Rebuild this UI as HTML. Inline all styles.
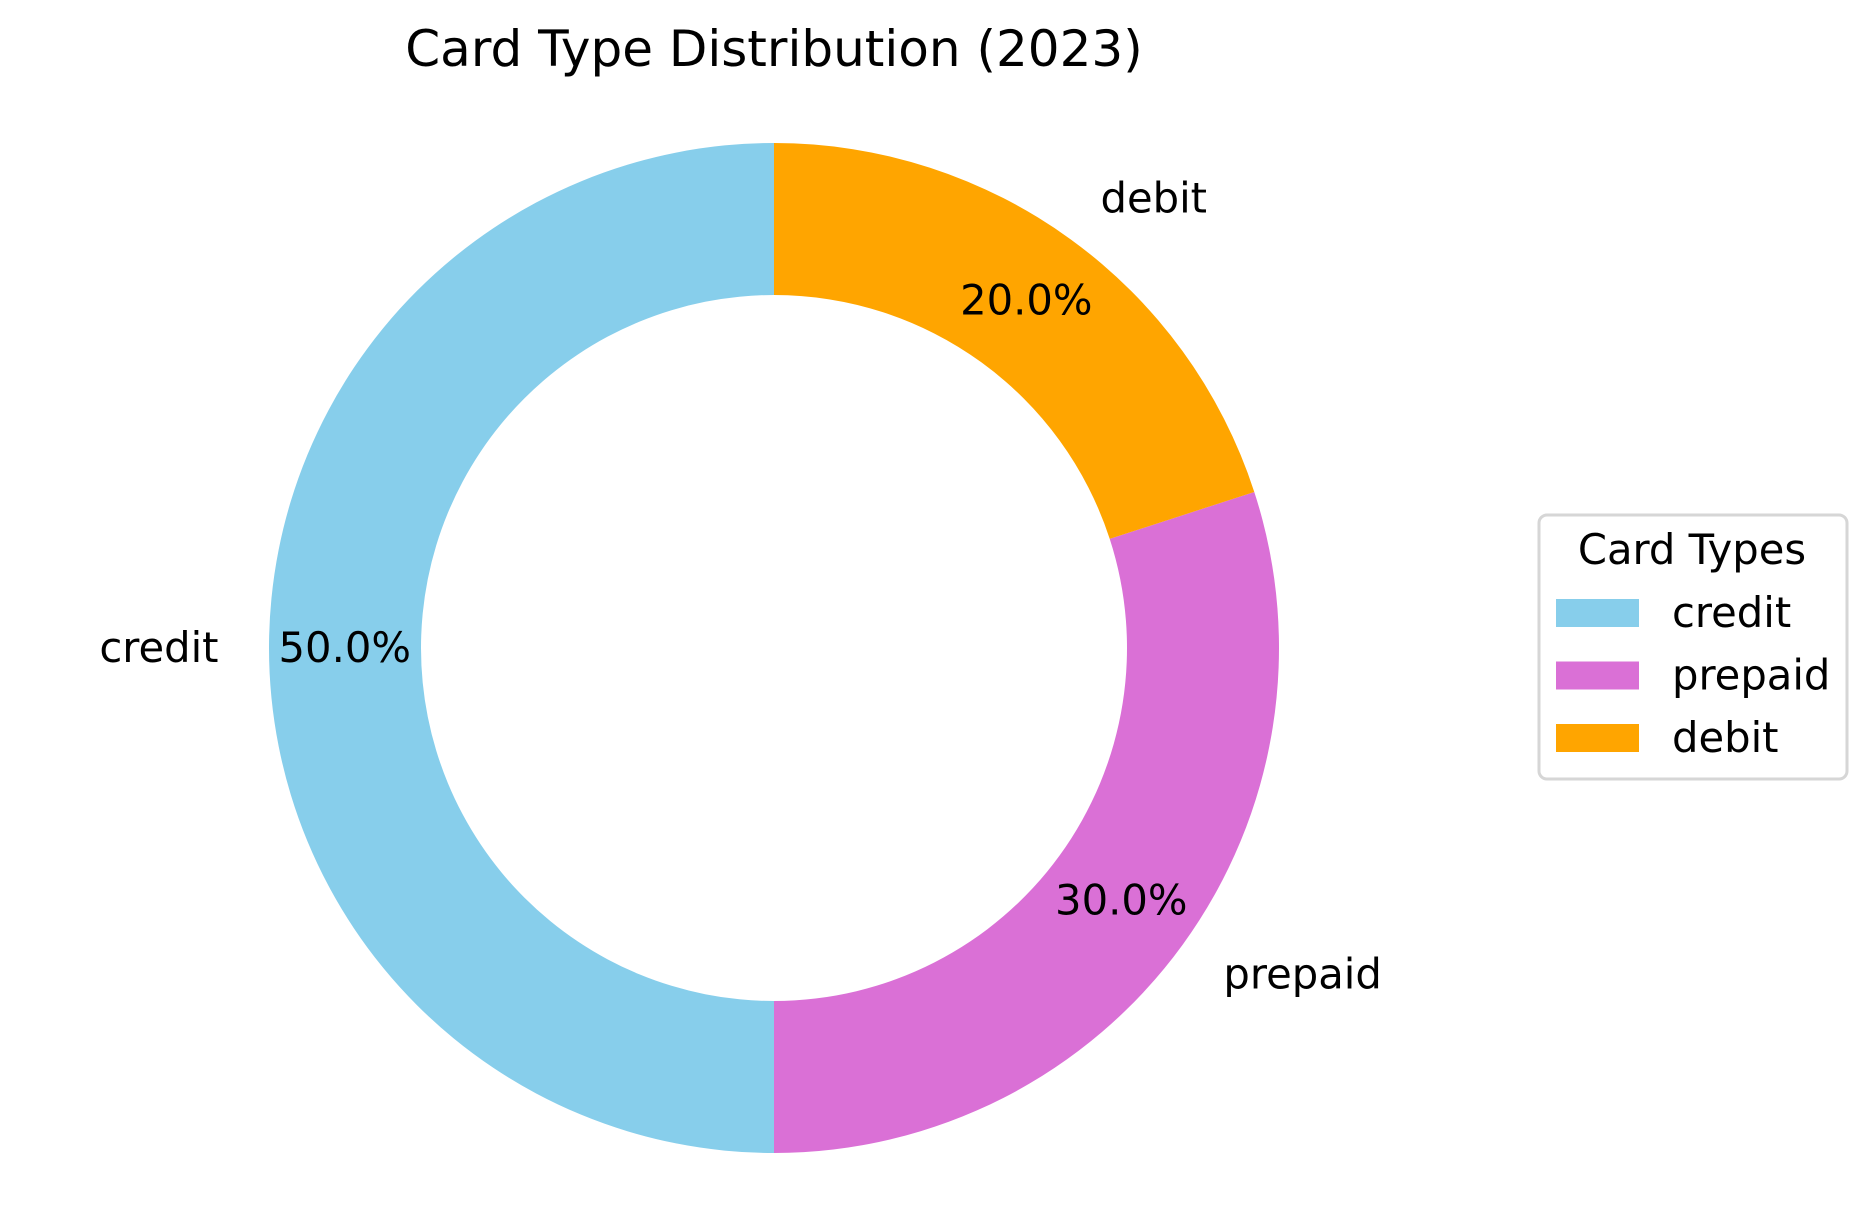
<!DOCTYPE html>
<html><head><meta charset="utf-8"><style>
html,body{margin:0;padding:0;background:#fff;}
svg{display:block;font-family:"DejaVu Sans","Liberation Sans",sans-serif;}
</style></head><body>
<svg id="chart" width="1876" height="1231" viewBox="0 0 1876 1231">
<text x="774" y="66" font-size="50" text-anchor="middle">Card Type Distribution (2023)</text>
<g id="slices"></g>
<g id="labels"></g>
<g id="legend">
<rect x="1539" y="515" width="308" height="264" rx="8" fill="#fff" stroke="#d6d6d6" stroke-width="3"/>
<text x="1692" y="564" font-size="41.7" text-anchor="middle">Card Types</text>
</g>
</svg>
<script>
const categories = ["credit", "prepaid", "debit"];
const values = [50, 30, 20];
const colors = ["#87CEEB", "#DA70D6", "#FFA500"];

const NS = "http://www.w3.org/2000/svg";
const cx = 774, cy = 648, R = 505, r = 353;
const total = values.reduce((a, b) => a + b, 0);
function pt(rad, deg) { const a = deg * Math.PI / 180; return [cx + rad * Math.cos(a), cy - rad * Math.sin(a)]; }
const sl = document.getElementById('slices');
const lb = document.getElementById('labels');
const lg = document.getElementById('legend');
let ang = 90;
values.forEach((v, i) => {
  const sweep = v / total * 360;
  const a0 = ang, a1 = ang + sweep;
  const large = sweep > 180 ? 1 : 0;
  const [x0, y0] = pt(R, a0), [x1, y1] = pt(R, a1), [x2, y2] = pt(r, a1), [x3, y3] = pt(r, a0);
  const p = document.createElementNS(NS, 'path');
  p.setAttribute('d', `M${x0},${y0} A${R},${R} 0 ${large} 0 ${x1},${y1} L${x2},${y2} A${r},${r} 0 ${large} 1 ${x3},${y3} Z`);
  p.setAttribute('fill', colors[i]);
  
  
  sl.appendChild(p);
  const mid = (a0 + a1) / 2;
  const [lx, ly] = pt(R * 1.1, mid);
  const t = document.createElementNS(NS, 'text');
  const c = Math.cos(mid * Math.PI / 180);
  t.setAttribute('x', lx); t.setAttribute('y', ly + 14);
  t.setAttribute('font-size', '41.7');
  t.setAttribute('text-anchor', c > 0.01 ? 'start' : (c < -0.01 ? 'end' : 'middle'));
  t.textContent = categories[i];
  
  
  lb.appendChild(t);
  const [px, py] = pt(R * 0.85, mid);
  const q = document.createElementNS(NS, 'text');
  q.setAttribute('x', px); q.setAttribute('y', py + 14);
  q.setAttribute('font-size', '41.7');
  q.setAttribute('text-anchor', 'middle');
  q.textContent = (v / total * 100).toFixed(1) + '%';
  
  
  lb.appendChild(q);
  const ey = 613 + i * 62.5;
  const rc = document.createElementNS(NS, 'rect');
  rc.setAttribute('x', 1556); rc.setAttribute('y', ey - 14); rc.setAttribute('width', 83); rc.setAttribute('height', 28);
  rc.setAttribute('fill', colors[i]);
  
  
  lg.appendChild(rc);
  const lt = document.createElementNS(NS, 'text');
  lt.setAttribute('x', 1672); lt.setAttribute('y', ey + 14);
  lt.setAttribute('font-size', '41.7');
  lt.textContent = categories[i];
  
  
  lg.appendChild(lt);
  ang = a1;
});
</script>
</body></html>
